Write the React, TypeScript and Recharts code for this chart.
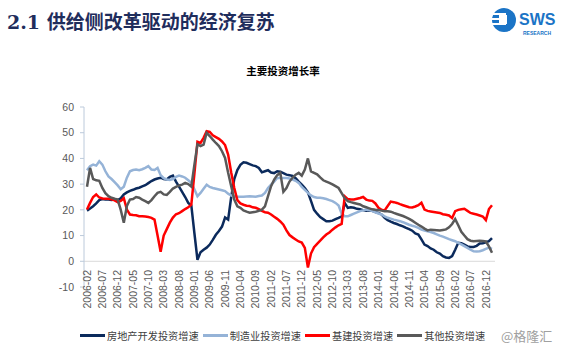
import { LineChart, Line, XAxis, YAxis, ReferenceLine } from 'recharts';

// 2006-02 起每月一个点，到 2017-02
const FIRST_YEAR = 2006;
const FIRST_MONTH = 2;
const POINTS = 133;

const months = Array.from({ length: POINTS }, (_, k) => {
  const m = FIRST_MONTH - 1 + k;
  return `${FIRST_YEAR + Math.floor(m / 12)}-${String((m % 12) + 1).padStart(2, '0')}`;
});

const realEstate = [
  19.7, 20.5, 21.4, 22.5, 23.8, 24.2, 24.0, 24.0, 23.8, 24.0,
  23.8, 24.5, 26.0, 26.8, 27.4, 27.8, 28.3, 28.6, 29.1, 29.6,
  30.4, 31.2, 31.8, 32.2, 32.5, 32.0, 31.8, 32.8, 33.3, 31.0,
  29.0, 27.0, 25.0, 22.7, 21.7, 11.0, 0.6, 3.5, 4.5, 5.3,
  6.5, 8.3, 10.3, 11.8, 13.5, 17.0, 16.2, 25.0, 32.0, 35.5,
  37.5, 38.5, 38.3, 37.8, 37.3, 37.0, 36.3, 34.6, 35.0, 35.4,
  34.5, 34.3, 35.0, 34.8, 34.3, 33.7, 33.5, 33.2, 32.3, 31.0,
  29.8, 28.5, 26.8, 23.5, 20.0, 18.5, 17.2, 16.4, 15.6, 15.6,
  15.8, 16.4, 16.9, 17.5, 22.7, 20.8, 21.0, 20.8, 20.4, 20.2,
  19.9, 19.7, 19.8, 19.6, 19.1, 18.8, 18.2, 16.9, 16.0, 15.4,
  14.9, 14.5, 14.0, 13.6, 13.0, 12.5, 11.9, 10.8, 10.4, 8.5,
  6.5, 5.9, 5.0, 4.5, 3.5, 3.0, 2.0, 1.5, 1.3, 2.0,
  4.5, 7.2, 7.0, 6.5, 5.8, 5.6, 5.6, 6.0, 6.9, 7.0,
  7.4, 7.8, 9.0,
];

const manufacturing = [
  35.4, 37.0, 37.6, 37.2, 38.9, 37.6, 35.0, 33.0, 32.0, 30.8,
  29.5, 28.0, 29.0, 32.5, 35.0, 35.5, 35.7, 35.4, 35.8, 36.3,
  37.0, 35.7, 35.5, 36.3, 33.5, 32.3, 31.8, 31.6, 32.0, 32.8,
  33.3, 33.0, 32.5, 31.5, 30.5, 28.0, 25.3, 26.6, 28.2, 29.8,
  28.9, 28.5, 28.2, 27.9, 27.6, 27.3, 26.3, 25.6, 25.3, 25.1,
  25.1, 25.1, 25.2, 25.3, 25.2, 25.1, 25.4, 25.6, 26.6, 28.5,
  29.8, 31.0, 32.4, 32.4, 32.4, 32.4, 32.2, 31.8, 31.3, 30.5,
  28.9, 27.8, 26.6, 25.6, 25.0, 24.7, 24.7, 24.5, 24.2, 23.8,
  23.4, 22.7, 21.7, 18.5, 17.5, 17.5, 18.0, 18.5, 19.0, 19.5,
  19.8, 20.1, 20.0, 19.5, 19.0, 18.6, 18.2, 17.5, 16.9, 16.6,
  16.2, 15.9, 15.6, 15.2, 14.7, 14.2, 13.8, 13.5, 13.0, 12.3,
  12.0, 11.7, 11.4, 11.0, 10.5, 10.0, 9.6, 9.1, 8.6, 8.2,
  7.8, 7.2, 6.6, 5.9, 5.2, 4.5, 3.9, 3.8, 3.9, 4.3,
  4.8, 5.3, 4.8,
];

const infrastructure = [
  20.1, 22.7, 25.0, 26.0, 24.8, 24.4, 24.3, 24.3, 24.1, 23.7,
  23.0, 23.5, 24.5, 20.1, 18.2, 18.0, 17.9, 17.5, 17.5, 17.4,
  17.2, 16.9, 16.2, 10.0, 3.7, 10.0, 12.5, 15.0, 17.0, 18.3,
  18.7, 19.5, 20.3, 21.0, 22.0, 34.0, 46.5, 46.0, 48.0, 50.6,
  50.3, 49.0, 48.3, 47.6, 46.6, 45.2, 41.5, 34.5, 28.5, 23.8,
  22.5, 22.0, 21.6, 21.5, 21.0, 20.8, 20.3, 19.6, 19.1, 18.9,
  18.2, 17.3, 16.5, 15.5, 14.2, 12.0, 10.2, 9.3, 8.5, 7.7,
  7.3, 5.2, -2.4, 3.0, 5.5, 6.8, 8.0, 9.3, 10.4, 11.2,
  12.3, 13.2, 14.0, 14.5, 25.3, 24.2, 24.0, 24.0, 24.3, 24.6,
  25.0, 24.0, 23.6, 23.5, 22.5, 20.8, 20.0, 19.8, 21.5, 23.2,
  23.0, 22.7, 22.2, 21.8, 21.4, 21.0, 20.9, 21.3, 21.8, 22.8,
  20.1, 19.6, 19.4, 19.2, 19.0, 18.8, 18.3, 18.1, 17.8, 16.8,
  19.5, 20.0, 20.2, 20.4, 19.6, 18.8, 18.5, 18.2, 17.8, 17.4,
  16.0, 20.3, 21.8,
];

const other = [
  29.0, 36.3, 32.0, 31.5, 31.3, 28.5, 26.5, 25.3, 24.7, 24.3,
  24.0, 20.0, 15.0, 21.5, 24.0, 24.2, 25.0, 24.7, 24.0, 23.4,
  22.7, 23.8, 25.3, 26.6, 27.0, 26.0, 25.8, 27.0, 28.3, 28.9,
  29.5, 29.8, 30.5, 30.0, 29.0, 37.5, 45.5, 44.8, 45.4, 50.0,
  48.7, 47.3, 46.0, 44.8, 42.8, 40.2, 34.4, 29.2, 24.0, 21.4,
  20.8, 19.8, 19.3, 18.9, 19.1, 19.3, 19.6, 20.1, 21.4, 25.3,
  29.2, 31.8, 33.5, 34.4, 27.0, 28.5, 31.0, 32.5, 33.7, 34.4,
  33.3, 35.7, 40.0, 35.0, 34.4, 33.8, 32.6, 31.5, 31.0, 30.5,
  29.9, 29.2, 28.5, 26.5, 24.5, 23.4, 23.0, 22.7, 22.4, 22.1,
  21.4, 21.0, 20.6, 20.2, 20.0, 19.9, 19.7, 19.5, 19.5, 19.3,
  18.8, 18.4, 18.0, 17.6, 17.1, 16.5, 15.8, 15.0, 14.2, 13.5,
  12.7, 12.0, 12.3, 12.2, 12.1, 12.0, 12.2, 12.4, 13.2, 14.5,
  16.4, 14.0, 11.5, 10.0, 8.6, 8.0, 7.8, 7.9, 8.0, 7.9,
  7.7, 5.8, 3.3,
];

const yTicks = [-10, 0, 10, 20, 30, 40, 50, 60];

const SERIES = [
  { key: 'realEstate', name: '房地产开发投资增速', color: '#0b2a5c' },
  { key: 'manufacturing', name: '制造业投资增速', color: '#95b3d7' },
  { key: 'infrastructure', name: '基建投资增速', color: '#ff0000' },
  { key: 'other', name: '其他投资增速', color: '#595959' },
];

const data = months.map((month, k) => ({
  month,
  realEstate: realEstate[k],
  manufacturing: manufacturing[k],
  infrastructure: infrastructure[k],
  other: other[k],
}));

const CJK = '"Noto Sans CJK SC", "Liberation Sans", sans-serif';
const LATIN = '"Liberation Sans", Arial, sans-serif';

// 横轴标签贴着 0 线往下排（Excel 默认样式）
function MonthTick({ x, payload }: any) {
  return (
    <g transform={`translate(${x},270)`}>
      <text
        transform="rotate(-90)"
        textAnchor="end"
        dy="0.35em"
        fontSize={10.5}
        fill="#595959"
        fontFamily={LATIN}
      >
        {payload.value}
      </text>
    </g>
  );
}

function Logo() {
  return (
    <svg width={70} height={38} style={{ position: 'absolute', left: 490, top: 3 }}>
      <circle cx={14} cy={17} r={12} fill="#1b74c6" />
      <rect x={2} y={10} width={14} height={2} fill="#fff" />
      <rect x={2} y={15} width={12} height={2} fill="#fff" />
      <rect x={2} y={20} width={14} height={2} fill="#fff" />
      <rect x={9} y={12} width={8} height={9} fill="#fff" />
      <text x={29} y={22} fontSize={16} fontWeight="bold" fill="#1b74c6" fontFamily={LATIN}>
        SWS
      </text>
      <text x={33} y={32} fontSize={5} fontWeight="bold" fill="#1b74c6" fontFamily={LATIN}>
        RESEARCH
      </text>
    </svg>
  );
}

export default function App() {
  return (
    <div
      style={{
        position: 'absolute',
        left: 0,
        top: 0,
        width: 562,
        height: 354,
        background: '#fff',
        overflow: 'hidden',
      }}
    >
      <div
        style={{
          position: 'absolute',
          left: 7,
          top: 9,
          fontSize: 19,
          lineHeight: '26px',
          fontWeight: 'bold',
          color: '#1f2d5c',
          fontFamily: `"DejaVu Serif", ${CJK}`,
          whiteSpace: 'nowrap',
        }}
      >
        2.1 供给侧改革驱动的经济复苏
      </div>
      <Logo />
      <div
        style={{
          position: 'absolute',
          left: 0,
          width: 566,
          top: 63,
          textAlign: 'center',
          fontSize: 10.5,
          fontWeight: 'bold',
          color: '#000',
          fontFamily: CJK,
        }}
      >
        主要投资增长率
      </div>

      <div style={{ position: 'absolute', left: 0, top: 0 }}>
        <LineChart
          width={562}
          height={354}
          data={data}
          margin={{ top: 107, right: 67, bottom: 37, left: 0 }}
        >
          <XAxis
            dataKey="month"
            interval={4}
            axisLine={false}
            tickLine={false}
            height={30}
            padding={{ left: 3, right: 3 }}
            tick={<MonthTick />}
          />
          <YAxis
            domain={[-10, 60]}
            ticks={yTicks}
            width={84}
            tickSize={4}
            tickMargin={6}
            axisLine={{ stroke: '#bccadb' }}
            tickLine={{ stroke: '#bccadb' }}
            tick={{ fontSize: 10.5, fill: '#595959', fontFamily: LATIN }}
          />
          <ReferenceLine y={0} stroke="#d9d9d9" />
          {SERIES.map((s) => (
            <Line
              key={s.key}
              type="linear"
              dataKey={s.key}
              name={s.name}
              stroke={s.color}
              strokeWidth={2.5}
              dot={false}
              isAnimationActive={false}
            />
          ))}
        </LineChart>
      </div>

      {/* 图例 */}
      <div
        style={{
          position: 'absolute',
          left: 80,
          top: 328,
          display: 'flex',
          alignItems: 'center',
          fontFamily: CJK,
          fontSize: 10.2,
          color: '#404040',
          whiteSpace: 'nowrap',
        }}
      >
        {SERIES.map((s) => (
          <div key={s.key} style={{ display: 'flex', alignItems: 'center', marginRight: 4 }}>
            <div style={{ width: 25, height: 3, background: s.color, marginRight: 2 }} />
            <span>{s.name}</span>
          </div>
        ))}
      </div>
      <div
        style={{
          position: 'absolute',
          left: 501,
          top: 326,
          fontSize: 13,
          color: '#a0a0a0',
          fontFamily: CJK,
          whiteSpace: 'nowrap',
        }}
      >
        @格隆汇
      </div>
    </div>
  );
}
